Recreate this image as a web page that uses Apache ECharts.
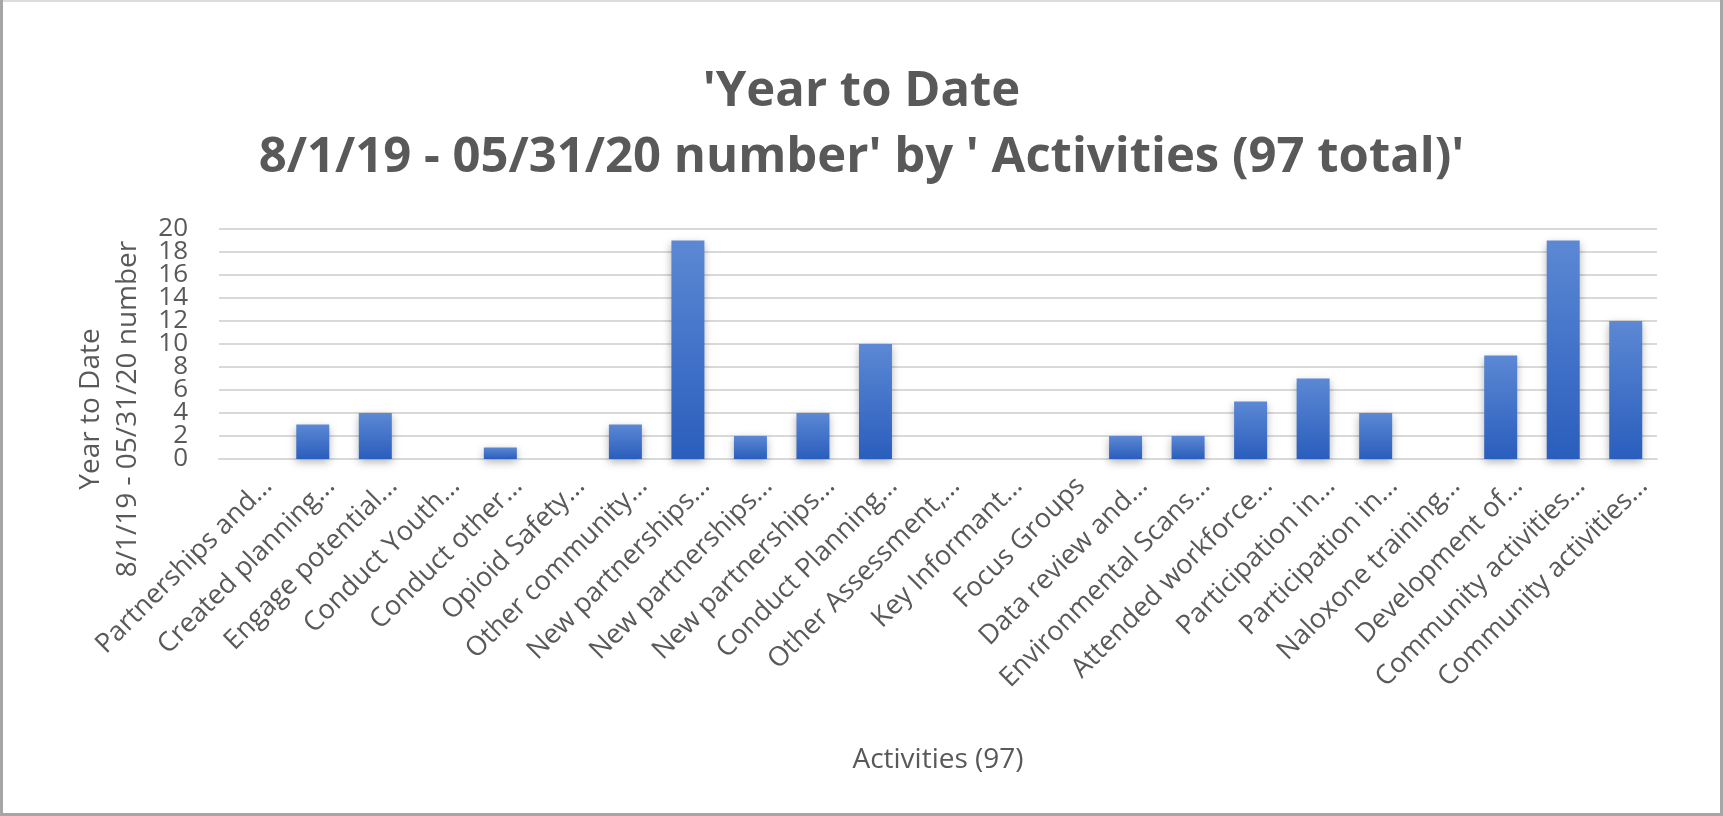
<!DOCTYPE html>
<html>
<head>
<meta charset="utf-8">
<script src="https://cdn.jsdelivr.net/npm/echarts@6/dist/echarts.min.js"></script>
<style>
    html, body { margin: 0; padding: 0; background: #fff; }
    #main { width: 1723px; height: 816px; }
</style>
</head>
<body>
<div id="main"></div>
<script>
    var activities = [
        'Partnerships and...', 'Created planning...', 'Engage potential...', 'Conduct Youth...',
        'Conduct other...', 'Opioid Safety...', 'Other community...', 'New partnerships...',
        'New partnerships...', 'New partnerships...', 'Conduct Planning...', 'Other Assessment,...',
        'Key Informant...', 'Focus Groups', 'Data review and...', 'Environmental Scans...',
        'Attended workforce...', 'Participation in...', 'Participation in...', 'Naloxone training...',
        'Development of...', 'Community activities...', 'Community activities...'
    ];
    var ytdCounts = [0, 3, 4, 0, 1, 0, 3, 19, 2, 4, 10, 0, 0, 0, 2, 2, 5, 7, 4, 0, 9, 19, 12];

    var textColor = '#595959';
    var font = 'Open Sans';
    var yLabel = {fontSize: 26, color: textColor, margin: 31, fontFamily: font};

    var myChart = echarts.init(document.getElementById('main'));
    var option = {
        animation: false,
        textStyle: {fontFamily: font, color: textColor},
        title: {
            text: "'Year to Date\n8/1/19 - 05/31/20 number' by ' Activities (97 total)'",
            left: 'center',
            top: 59,
            padding: 0,
            textStyle: {
                fontFamily: font,
                fontWeight: 'bold',
                fontSize: 49,
                lineHeight: 66,
                color: textColor
            }
        },
        // outer frame of the picture
        graphic: [
            {type: 'line', shape: {x1: 0, y1: 1, x2: 1723, y2: 1}, style: {stroke: '#dcdcdc', lineWidth: 2}},
            {type: 'line', shape: {x1: 1.5, y1: 0, x2: 1.5, y2: 816}, style: {stroke: '#a6a6a6', lineWidth: 3}},
            {type: 'line', shape: {x1: 1721.5, y1: 0, x2: 1721.5, y2: 816}, style: {stroke: '#a6a6a6', lineWidth: 3}},
            {type: 'line', shape: {x1: 0, y1: 814.5, x2: 1723, y2: 814.5}, style: {stroke: '#a6a6a6', lineWidth: 3}}
        ],
        grid: {left: 219, right: 66, top: 229, bottom: 357},
        xAxis: {
            type: 'category',
            data: activities,
            name: 'Activities (97)',
            nameLocation: 'middle',
            nameGap: 287,
            nameTextStyle: {fontSize: 28, color: textColor, fontFamily: font},
            axisTick: {show: false},
            axisLine: {lineStyle: {color: '#d9d9d9', width: 2}},
            axisLabel: {
                interval: 0,
                rotate: 45,
                margin: 5,
                verticalAlign: 'top',
                lineHeight: 50,
                fontSize: 27,
                color: textColor,
                fontFamily: font
            }
        },
        // labels are packed so tightly that echarts drops some of them,
        // so 0,4,8.. go on the first axis and 2,6,10.. on a second one at the same place
        yAxis: [
            {
                type: 'value',
                min: 0,
                max: 20,
                interval: 4,
                name: 'Year to Date\n8/1/19 - 05/31/20 number',
                nameLocation: 'middle',
                nameGap: 72,
                nameTextStyle: {
                    fontSize: 28,
                    lineHeight: 37,
                    color: textColor,
                    fontFamily: font,
                    padding: [0, 130, 0, 0]
                },
                axisLabel: yLabel,
                splitLine: {show: false}
            },
            {
                type: 'value',
                position: 'left',
                min: 0,
                max: 20,
                interval: 2,
                axisLabel: Object.assign({}, yLabel, {
                    showMinLabel: false,
                    showMaxLabel: false,
                    formatter: function (v) {
                        return v % 4 === 0 ? '' : String(v);
                    }
                }),
                splitLine: {lineStyle: {color: '#d9d9d9', width: 2}}
            }
        ],
        series: [
            {
                type: 'bar',
                yAxisIndex: 0,
                data: ytdCounts,
                barWidth: 33,
                itemStyle: {
                    color: {
                        type: 'linear',
                        x: 0, y: 0, x2: 0, y2: 1,
                        colorStops: [
                            {offset: 0, color: '#5c88d4'},
                            {offset: 1, color: '#2a5ebd'}
                        ]
                    },
                    shadowBlur: 8,
                    shadowColor: 'rgba(0,0,0,0.3)',
                    shadowOffsetY: 3
                }
            }
        ]
    };
    myChart.setOption(option);
</script>
</body>
</html>
